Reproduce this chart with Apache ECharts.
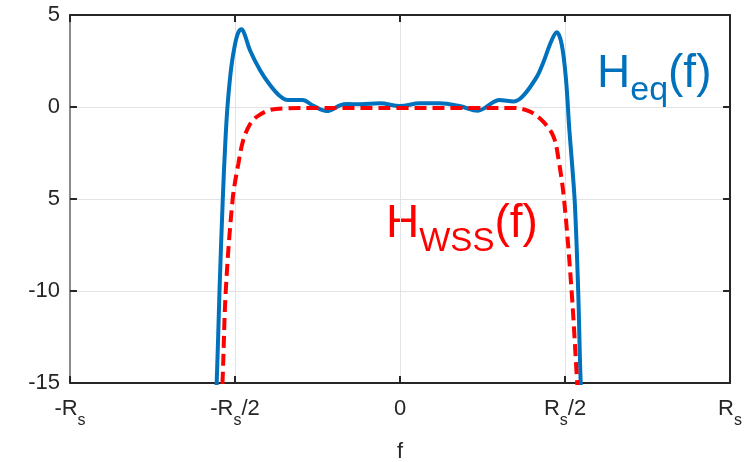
<!DOCTYPE html>
<html>
<head>
<meta charset="utf-8">
<script src="https://cdn.jsdelivr.net/npm/echarts@6/dist/echarts.min.js"></script>
<style>
html,body{margin:0;padding:0;background:#fff;}
#chart{width:746px;height:462px;}
</style>
</head>
<body>
<div id="chart"></div>
<script>
// ---- data (frequency in units of Rs, magnitude in dB) ----
const xTickValues = [-1, -0.5, 0, 0.5, 1];
const xTickMain = ['-R', '-R', '0', 'R', 'R'];
const xTickSub = ['s', 's', '', 's', 's'];
const xTickTail = ['', '/2', '', '/2', ''];
const yTickValues = [-15, -10, -5, 0, 5];
const yTickLabels = ['-15', '-10', '5', '0', '5'];

const heqF = [-0.562, -0.5555, -0.547, -0.537, -0.529, -0.522, -0.511, -0.5, -0.49, -0.48, -0.47, -0.455, -0.424, -0.394, -0.364, -0.34, -0.295, -0.264, -0.222, -0.18, -0.16, -0.12, -0.06, 0, 0.06, 0.12, 0.18, 0.236, 0.28, 0.30, 0.345, 0.373, 0.415, 0.433, 0.46, 0.475, 0.49, 0.503, 0.513, 0.521, 0.53, 0.54, 0.5476, 0.555];
const heqDb = [-17, -15, -10, -5, -1.8, 0.2, 2.2, 3.4, 4.05, 4.22, 3.9, 3.1, 2.0, 1.2, 0.6, 0.38, 0.38, 0.08, -0.22, 0.1, 0.16, 0.15, 0.2, 0.05, 0.2, 0.2, 0.05, -0.2, 0.23, 0.38, 0.3, 0.6, 1.65, 2.37, 3.64, 4.06, 3.4, 1.5, -1.2, -3.0, -5.3, -10, -15, -17];

const hwssF = [-0.545, -0.538, -0.528, -0.507, -0.49, -0.475, -0.455, -0.434, -0.394, -0.343, -0.25, 0, 0.25, 0.342, 0.394, 0.434, 0.465, 0.48, 0.497, 0.52, 0.537, 0.545];
const hwssDb = [-17, -15, -10, -5, -3.1, -1.8, -0.95, -0.53, -0.16, -0.07, -0.05, -0.05, -0.05, -0.05, -0.25, -0.8, -1.6, -2.8, -5, -10, -15, -17];

// ---- chart ----
const FONT = 'Liberation Sans, Arial, Helvetica, sans-serif';
const INK = '#262626';
const BLUE = '#0072BD';
const RED = '#FF0000';

function zip(a, b) { return a.map((v, i) => [v, b[i]]); }

function xLabel(v) {
  const i = xTickValues.findIndex(t => Math.abs(t - v) < 1e-9);
  if (i < 0) return '';
  let s = '{m|' + xTickMain[i] + '}';
  if (xTickSub[i]) s += '{s|' + xTickSub[i] + '}';
  if (xTickTail[i]) s += '{m|' + xTickTail[i] + '}';
  return s;
}
function yLabel(v) {
  const i = yTickValues.findIndex(t => Math.abs(t - v) < 1e-9);
  return i < 0 ? '' : yTickLabels[i];
}

const chart = echarts.init(document.getElementById('chart'), null, {renderer: 'canvas'});
const option = {
  animation: false,
  backgroundColor: '#ffffff',
  grid: {left: 70, right: 16, top: 15, bottom: 79, containLabel: false, outerBoundsMode: 'none'},
  xAxis: [
    {
      type: 'value', min: -1, max: 1, interval: 0.5, position: 'bottom',
      axisLine: {onZero: false, lineStyle: {color: INK, width: 2}},
      axisTick: {inside: true, length: 7, lineStyle: {color: INK, width: 2}},
      splitLine: {show: true, lineStyle: {color: '#e3e3e3', width: 1}},
      axisLabel: {
        margin: 15, formatter: xLabel,
        rich: {
          m: {fontSize: 22, lineHeight: 22, fontFamily: FONT, color: INK, verticalAlign: 'top'},
          s: {fontSize: 16, lineHeight: 16, fontFamily: FONT, color: INK, verticalAlign: 'top', padding: [15, 0, 0, 0]}
        }
      },
      name: 'f', nameLocation: 'middle', nameGap: 58,
      nameTextStyle: {fontSize: 22, fontFamily: FONT, color: INK}
    },
    {
      type: 'value', min: -1, max: 1, interval: 0.5, position: 'top',
      axisLine: {onZero: false, lineStyle: {color: INK, width: 2}},
      axisTick: {inside: true, length: 7, lineStyle: {color: INK, width: 2}},
      splitLine: {show: false}, axisLabel: {show: false}
    }
  ],
  yAxis: [
    {
      type: 'value', min: -15, max: 5, interval: 5, position: 'left',
      axisLine: {onZero: false, lineStyle: {color: '#8a8a8a', width: 2}},
      axisTick: {inside: true, length: 7, lineStyle: {color: INK, width: 2}},
      splitLine: {show: true, lineStyle: {color: '#e3e3e3', width: 1}},
      axisLabel: {margin: 10, formatter: yLabel, fontSize: 22, fontFamily: FONT, color: INK}
    },
    {
      type: 'value', min: -15, max: 5, interval: 5, position: 'right',
      axisLine: {onZero: false, lineStyle: {color: INK, width: 2}},
      axisTick: {inside: true, length: 7, lineStyle: {color: INK, width: 2}},
      splitLine: {show: false}, axisLabel: {show: false}
    }
  ],
  series: [
    {
      name: 'Heq', type: 'line', xAxisIndex: 0, yAxisIndex: 0,
      data: zip(heqF, heqDb), showSymbol: false, smooth: 0.35, clip: true,
      lineStyle: {color: BLUE, width: 4}
    },
    {
      name: 'Hwss', type: 'line', xAxisIndex: 0, yAxisIndex: 0,
      data: zip(hwssF, hwssDb), showSymbol: false, smooth: 0.35, clip: true,
      lineStyle: {color: RED, width: 4, type: [12, 6]}
    }
  ],
  graphic: [
    {
      type: 'text', x: 597, y: 51, silent: true,
      style: {
        text: '{m|H}{s|eq}{m|(f)}', align: 'left', verticalAlign: 'top',
        rich: {
          m: {fontSize: 46, lineHeight: 46, fontFamily: FONT, fill: BLUE, verticalAlign: 'top'},
          s: {fontSize: 34, lineHeight: 34, fontFamily: FONT, fill: BLUE, verticalAlign: 'top', padding: [23, 0, 0, 0]}
        }
      }
    },
    {
      type: 'text', x: 386, y: 201, silent: true,
      style: {
        text: '{m|H}{s|WSS}{m|(f)}', align: 'left', verticalAlign: 'top',
        rich: {
          m: {fontSize: 46, lineHeight: 46, fontFamily: FONT, fill: RED, verticalAlign: 'top'},
          s: {fontSize: 33, lineHeight: 33, fontFamily: FONT, fill: RED, verticalAlign: 'top', padding: [24, 0, 0, 0]}
        }
      }
    }
  ]
};
chart.setOption(option);
</script>
</body>
</html>
